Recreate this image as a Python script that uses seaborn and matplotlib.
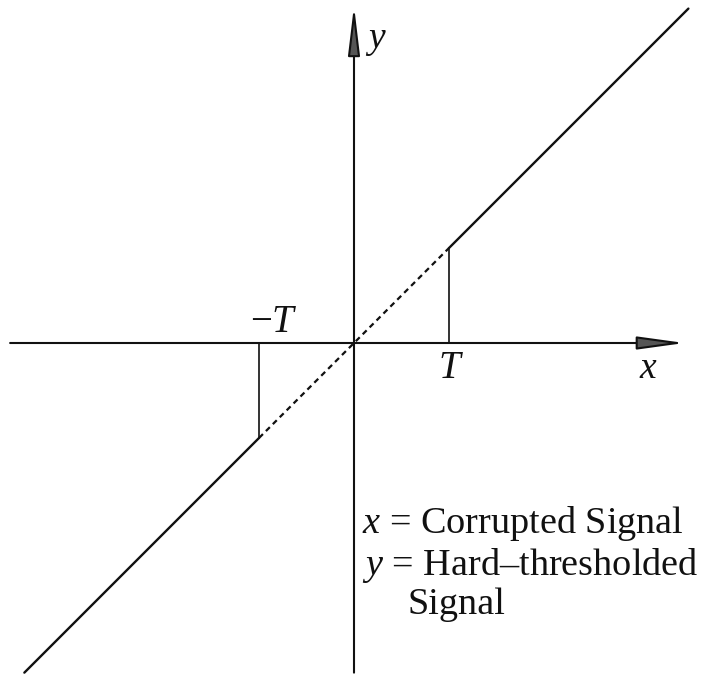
import matplotlib
matplotlib.use("Agg")
import matplotlib.pyplot as plt
import seaborn as sns

# Threshold and the hard-thresholding characteristic y = x for |x| > T
T = 1.0
lower_x = [-3.47, -T]
lower_y = [-3.47, -T]
upper_x = [T, 3.52]
upper_y = [T, 3.52]
# jumps from the axis to the identity line at +/-T
jump_neg_x = [-T, -T]
jump_neg_y = [0.0, -T]
jump_pos_x = [T, T]
jump_pos_y = [0.0, T]
# identity reference inside the dead zone
ident_x = [-T, T]
ident_y = [-T, T]

# coordinate axes extents
xaxis_span = [-3.62, 3.48]
yaxis_span = [-3.47, 3.55]

sns.set_theme(style="white")
plt.rcParams["font.family"] = ["Liberation Serif", "DejaVu Serif"]
plt.rcParams["mathtext.fontset"] = "custom"
plt.rcParams["mathtext.rm"] = "Liberation Serif"
plt.rcParams["mathtext.it"] = "Liberation Serif:italic"

fig = plt.figure(figsize=(7.08, 6.76), dpi=100)
ax = fig.add_axes([0, 0, 1, 1])
ax.set_xlim(-354 / 95, 354 / 95)
ax.set_ylim(-333 / 95, 343 / 95)
ax.axis("off")

ink = "#111111"

# axes with arrowheads
ax.annotate("", xy=(xaxis_span[1], 0), xytext=(xaxis_span[0], 0),
            arrowprops=dict(arrowstyle="-|>,head_length=1.45,head_width=0.2",
                            lw=1.5, color=ink, fc="#555555",
                            shrinkA=0, shrinkB=0, mutation_scale=20))
ax.annotate("", xy=(0, yaxis_span[1]), xytext=(0, yaxis_span[0]),
            arrowprops=dict(arrowstyle="-|>,head_length=1.5,head_width=0.18",
                            lw=1.5, color=ink, fc="#555555",
                            shrinkA=0, shrinkB=0, mutation_scale=20))

common = dict(ax=ax, color=ink, estimator=None, sort=False, legend=False)
sns.lineplot(x=lower_x, y=lower_y, lw=1.7, **common)
sns.lineplot(x=upper_x, y=upper_y, lw=1.7, **common)
sns.lineplot(x=jump_neg_x, y=jump_neg_y, lw=1.2, **common)
sns.lineplot(x=jump_pos_x, y=jump_pos_y, lw=1.2, **common)
sns.lineplot(x=ident_x, y=ident_y, lw=1.6, linestyle=(0, (2.5, 1.9)), **common)

# labels
ax.text(0.12, 3.10, "$y$", fontsize=27, ha="left", va="baseline", color=ink)
ax.text(3.10, -0.37, "$x$", fontsize=27, ha="center", va="baseline", color=ink)
ax.text(T + 0.02, -0.37, "$T$", fontsize=28, ha="center", va="baseline", color=ink)
ax.text(-0.84, 0.12, "$-T$", fontsize=28, ha="center", va="baseline", color=ink)

ax.text(0.084, -2.00, "$x$ = Corrupted Signal", fontsize=27.5,
        ha="left", va="baseline", color=ink)
ax.text(0.084, -2.44, "$y$ = Hard\u2013thresholded", fontsize=27.5,
        ha="left", va="baseline", color=ink)
ax.text(0.56, -2.85, "Signal", fontsize=27.5, ha="left", va="baseline", color=ink)

fig.savefig("out.png", dpi=100, facecolor="white")
